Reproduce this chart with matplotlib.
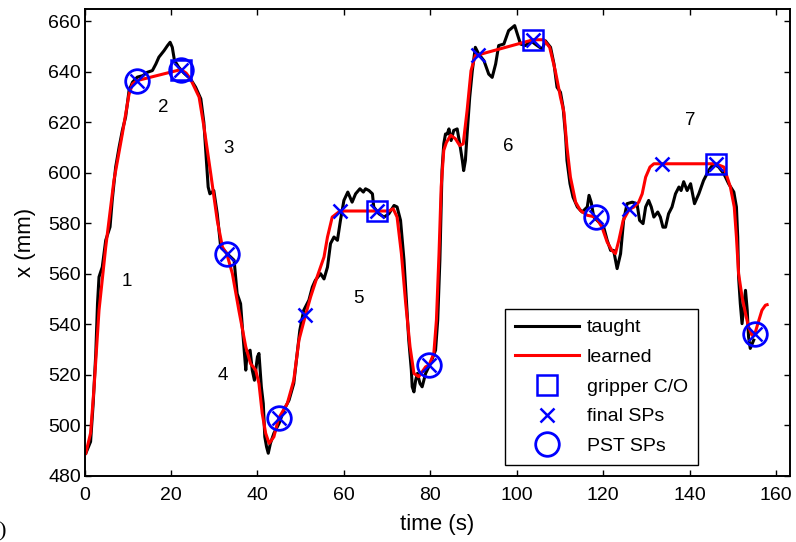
import matplotlib.pyplot as plt
from matplotlib.lines import Line2D

plt.rcParams['font.family'] = ['Liberation Sans', 'DejaVu Sans']

# taught trajectory (time in s, x in mm)
time_taught = [0.3, 1.4, 2.0, 2.6, 3.0, 3.35, 4.1, 4.9, 5.9, 6.4, 7.2, 8.0, 8.75, 9.5, 10.3,
               11.1, 12.2, 13.5, 14.5, 15.7, 16.5, 17.2, 18.4, 19.2, 19.8, 20.3, 20.8, 21.8,
               23.0, 24.5, 25.7, 26.9, 27.6, 28.6, 29.0, 29.9, 30.7, 31.5, 32.3, 33.0, 34.6,
               35.3, 36.1, 36.5, 37.0, 37.3, 37.6, 38.3, 38.8, 39.3, 40.0, 40.35, 40.9, 41.35,
               41.7, 42.1, 42.5, 43.0, 43.8, 45.0, 46.1, 47.3, 48.4, 49.2, 49.8, 50.7, 51.9,
               52.7, 53.4, 54.6, 55.4, 56.2, 56.9, 57.7, 58.5, 59.2, 60.0, 60.9, 61.9, 62.7,
               63.7, 64.5, 65.0, 65.8, 66.6, 66.9, 68.1, 69.3, 70.4, 71.6, 72.3, 73.1, 73.9,
               74.5, 75.0, 75.6, 75.8, 76.2, 76.6, 77.0, 77.6, 78.1, 78.9, 80.0, 81.2, 81.7,
               82.2, 82.7, 83.1, 83.5, 83.9, 84.3, 84.8, 85.4, 86.2, 86.8, 87.4, 87.7, 88.1,
               88.5, 89.1, 89.7, 90.4, 91.2, 92.4, 93.5, 94.3, 95.1, 95.8, 97.0, 98.1, 99.5,
               100.1, 100.85, 102.0, 103.2, 104.7, 105.9, 106.6, 107.8, 108.6, 109.3, 110.1,
               110.7, 111.3, 111.6, 112.3, 113.0, 114.0, 115.1, 116.3, 116.7, 117.2, 117.8,
               119.0, 120.1, 120.9, 121.7, 122.4, 123.2, 124.0, 124.7, 125.5, 126.7, 127.8,
               128.4, 129.2, 129.8, 130.5, 131.1, 131.7, 132.6, 133.2, 133.8, 134.4, 135.1,
               135.9, 136.7, 137.5, 138.0, 138.6, 139.4, 140.2, 141.1, 142.1, 143.2, 144.4,
               145.5, 146.7, 147.9, 149.0, 150.2, 150.8, 151.1, 151.3, 151.7, 152.1, 152.5,
               152.9, 153.3, 153.6, 154.0, 154.8]
x_taught = [489.0, 493.6, 508.7, 528.5, 548.2, 558.8, 562.7, 573.3, 578.6, 589.1, 602.3, 610.2,
            616.8, 622.1, 632.6, 635.9, 637.9, 638.5, 639.8, 640.5, 643.1, 645.8, 648.4, 650.4,
            651.7, 649.7, 644.5, 641.8, 639.5, 637.2, 633.9, 629.3, 620.0, 594.4, 591.7, 593.0,
            583.8, 570.6, 569.3, 568.0, 565.4, 552.2, 548.2, 539.0, 528.5, 521.9, 528.5, 529.8,
            521.9, 517.9, 527.2, 528.5, 515.3, 508.7, 495.5, 491.6, 489.0, 492.9, 496.9, 500.8,
            506.1, 510.0, 516.6, 528.5, 537.7, 545.6, 549.6, 554.8, 557.5, 560.1, 558.0, 562.7,
            572.0, 574.6, 573.3, 581.2, 589.1, 592.4, 588.4, 591.7, 593.7, 592.4, 593.7, 593.0,
            591.7, 586.5, 583.8, 582.5, 583.8, 587.1, 586.5, 581.2, 565.4, 548.2, 533.8, 521.9,
            515.3, 513.3, 517.9, 520.6, 516.6, 515.3, 520.6, 524.5, 529.8, 541.7, 565.4, 601.0,
            611.5, 615.4, 615.4, 617.4, 612.8, 616.8, 617.4, 611.5, 604.9, 600.9, 604.9, 615.4,
            629.9, 640.4, 649.7, 647.0, 644.4, 639.1, 637.8, 643.1, 650.4, 651.0, 656.3, 658.3,
            655.0, 651.0, 650.4, 652.3, 650.4, 649.0, 652.3, 649.7, 643.1, 633.9, 631.9, 626.0,
            614.1, 604.9, 595.7, 590.4, 586.5, 584.5, 586.5, 591.1, 588.4, 582.5, 580.5, 578.5,
            573.3, 569.3, 569.3, 562.1, 568.0, 581.2, 587.8, 588.4, 587.8, 581.2, 579.9, 586.5,
            589.1, 586.5, 582.5, 584.5, 582.5, 578.5, 578.5, 583.8, 586.5, 591.7, 594.4, 593.0,
            596.5, 593.0, 595.7, 587.8, 591.7, 597.0, 601.0, 603.6, 602.3, 599.6, 595.7, 592.4,
            586.5, 574.6, 558.8, 548.2, 540.3, 546.9, 553.5, 545.6, 535.1, 530.5, 533.8]

# learned trajectory
time_learned = [0.3, 1.4, 2.2, 3.35, 4.9, 6.8, 8.75, 10.3, 11.1, 12.1, 22.3, 23.5, 24.5, 26.5,
                27.6, 29.2, 30.7, 31.9, 32.9, 34.2, 35.7, 37.3, 38.4, 39.6, 40.35, 41.1, 41.9,
                42.7, 43.8, 44.9, 46.9, 48.4, 49.6, 51.1, 52.3, 53.8, 55.4, 56.2, 57.3, 59.1,
                67.6, 70.4, 71.4, 72.3, 73.3, 74.3, 75.3, 76.2, 77.3, 78.9, 79.7, 80.8, 81.4,
                82.0, 82.5, 83.1, 83.7, 84.7, 85.8, 86.8, 87.6, 88.5, 89.4, 90.4, 91.05, 103.8,
                106.2, 107.6, 108.9, 110.1, 110.9, 111.6, 112.4, 113.6, 114.7, 116.3, 118.3,
                119.7, 120.9, 122.0, 122.8, 123.6, 124.6, 126.0, 127.1, 128.2, 129.0, 129.8,
                130.8, 131.7, 133.6, 146.0, 147.9, 149.4, 150.3, 150.8, 151.3, 152.1, 152.9,
                153.6, 154.4, 155.1, 156.0, 156.7, 157.5, 157.9]
x_learned = [489.0, 497.0, 515.0, 545.6, 570.6, 597.0, 615.5, 631.2, 635.2, 636.5, 640.9, 639.5,
             637.2, 630.0, 618.5, 599.6, 581.2, 570.6, 568.0, 560.1, 545.6, 531.1, 524.5, 521.9,
             516.6, 504.8, 496.9, 492.9, 495.5, 502.8, 508.7, 517.9, 533.8, 543.6, 550.9, 558.8,
             566.7, 574.6, 582.5, 584.9, 584.9, 584.9, 585.8, 582.5, 568.0, 548.2, 531.1, 520.6,
             519.3, 523.2, 523.9, 528.5, 541.7, 568.0, 594.4, 608.9, 612.0, 614.9, 613.5, 610.8,
             611.5, 624.7, 640.4, 646.5, 646.7, 652.7, 652.7, 649.7, 640.4, 629.9, 624.0, 610.2,
             598.3, 588.4, 585.1, 583.2, 582.5, 578.5, 572.6, 569.3, 568.0, 573.3, 581.2, 585.5,
             586.5, 588.4, 591.7, 598.3, 602.3, 603.6, 603.6, 603.6, 602.3, 594.4, 586.5, 574.6,
             560.1, 550.9, 544.3, 539.0, 535.7, 536.5, 541.7, 545.6, 547.6, 547.8]

# gripper close/open events
gripper_t = [22.3, 67.6, 103.8, 146.0]
gripper_x = [640.9, 584.9, 652.7, 603.6]

# final via points
final_t = [12.1, 22.3, 32.9, 44.9, 51.1, 59.1, 67.6, 79.7, 91.05, 103.8, 118.3, 126.0,
           133.6, 146.0, 155.1]
final_x = [636.5, 640.9, 568.0, 502.8, 543.6, 584.9, 584.9, 523.9, 646.7, 652.7, 582.5, 585.5,
           603.6, 603.6, 536.1]

# via points from PST
pst_t = [12.1, 22.3, 32.9, 44.9, 79.7, 118.3, 155.1]
pst_x = [636.5, 640.9, 568.0, 502.8, 523.9, 582.5, 536.1]

# segment numbers
seg_labels = ['1', '2', '3', '4', '5', '6', '7']
seg_t = [9.8, 18.2, 33.4, 32.0, 63.3, 98.0, 140.2]
seg_x = [556.8, 625.8, 609.6, 519.9, 550.2, 610.6, 620.7]

fig = plt.figure(figsize=(7.96, 5.42), dpi=100)
ax = fig.add_axes([0.1062, 0.1218, 0.8863, 0.8622])

ax.plot(time_taught, x_taught, color='k', lw=2.2)
ax.plot(time_learned, x_learned, color='r', lw=2.2)
ax.plot(pst_t, pst_x, 'o', ms=17, mfc='none', mec='b', mew=2.0)
ax.plot(final_t, final_x, 'x', ms=10, mec='b', mew=1.8)
ax.plot(gripper_t, gripper_x, 's', ms=14, mfc='none', mec='b', mew=1.8)

for lab, t, x in zip(seg_labels, seg_t, seg_x):
    ax.text(t, x, lab, fontsize=13.5, ha='center', va='center')

ax.set_xlim(0, 163.2)
ax.set_ylim(480, 665)
ax.set_xticks(range(0, 161, 20))
ax.set_yticks(range(480, 661, 20))
ax.tick_params(direction='in', top=True, right=True, length=4, width=1, labelsize=14)
ax.tick_params(axis='x', pad=8)
ax.tick_params(axis='y', pad=2.5)
for s in ax.spines.values():
    s.set_linewidth(1.4)

ax.set_xlabel('time (s)', fontsize=16, labelpad=7)
ax.set_ylabel('x (mm)', fontsize=16, labelpad=9)

handles = [
    Line2D([], [], color='k', lw=2.2),
    Line2D([], [], color='r', lw=2.2),
    Line2D([], [], ls='none', marker='s', ms=14, mfc='none', mec='b', mew=1.8),
    Line2D([], [], ls='none', marker='x', ms=10, mec='b', mew=1.8),
    Line2D([], [], ls='none', marker='o', ms=17, mfc='none', mec='b', mew=2.0),
]
labels = ['taught', 'learned', 'gripper C/O', 'final SPs', 'PST SPs']
leg = ax.legend(handles, labels, loc='upper left', bbox_to_anchor=(0.596, 0.357),
                fontsize=14, handlelength=3.3, handletextpad=0.4, labelspacing=0.62,
                borderpad=0.5, borderaxespad=0, fancybox=False, framealpha=1,
                edgecolor='k', numpoints=1)
leg.get_frame().set_linewidth(1.0)

fig.text(0.0075, 0.018, ')', fontsize=16, family='Liberation Serif', ha='right', va='center')

fig.savefig('out.png', dpi=100)
